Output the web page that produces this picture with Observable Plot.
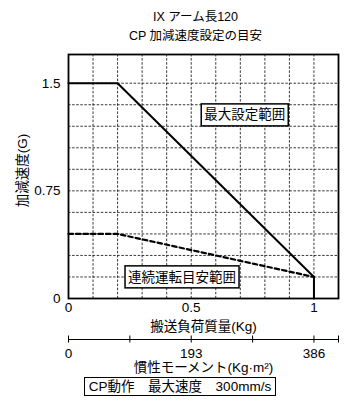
<!DOCTYPE html>
<html><head><meta charset="utf-8">
<script src="https://cdn.jsdelivr.net/npm/d3@7"></script>
<script src="https://cdn.jsdelivr.net/npm/@observablehq/plot@0.6"></script>
<style>
body{margin:0;background:#fff;width:353px;height:410px;position:relative;font-family:"Liberation Sans","Noto Sans CJK JP",sans-serif;color:#000}
#title{position:absolute;left:0;top:0;width:353px;height:48px;box-sizing:border-box;padding-top:8px;padding-left:38px;text-align:center;font-size:12.5px;line-height:19px}
#main{position:absolute;left:0;top:48px}
#sub{position:absolute;left:0;top:332px}
#caption{position:absolute;left:0;top:377px;width:353px;text-align:center;padding-left:7px;box-sizing:border-box}
#caption span{display:inline-block;border:1.5px solid #000;font-size:13.5px;line-height:17px;padding:0 4px}
svg{display:block;overflow:visible}
</style></head><body>
<div id="title">IX アーム長120<br>CP 加減速度設定の目安</div>
<div id="main"></div>
<div id="sub"></div>
<div id="caption"><span>CP動作　最大速度　300mm/s</span></div>
<script>
// data
const maxMass = [0, 0.2, 1.0, 1.0];
const maxAccel = [1.5, 1.5, 0.15, 0];
const contMass = [0, 0.2, 1.0];
const contAccel = [0.45, 0.45, 0.15];
const xTicks = [0, 0.5, 1];
const yTicks = [0, 0.75, 1.5];
const xGrid = [0.1, 0.2, 0.3, 0.4, 0.5, 0.6, 0.7, 0.8, 0.9, 1.0];
const yGrid = [0.15, 0.3, 0.45, 0.6, 0.75, 0.9, 1.05, 1.2, 1.35, 1.5];
const regionLabels = ["最大設定範囲", "連続運転目安範囲"];
const regionX = [0.718, 0.4625];
const regionY = [1.278, 0.146];
const inertiaLabels = [0, 193, 386];
const inertiaTicks = [0, 96.5, 193, 289.5, 386, 424.6];
const inertiaMax = 424.6;

const font = `"Liberation Sans","Noto Sans CJK JP",sans-serif`;
const fmt = d => String(d);
const maxData = maxMass.map((m, i) => ({m, a: maxAccel[i]}));
const contData = contMass.map((m, i) => ({m, a: contAccel[i]}));
const labels = regionLabels.map((t, i) => ({t, x: regionX[i], y: regionY[i]}));

const main = Plot.plot({
  width: 353, height: 290,
  marginTop: 6, marginBottom: 40, marginLeft: 68, marginRight: 15,
  style: {fontFamily: font, fontSize: "13.5px", background: "transparent", color: "#000", overflow: "visible"},
  x: {domain: [0, 1.1], ticks: xTicks, tickFormat: fmt, tickSize: 0, tickPadding: 4, label: null},
  y: {domain: [0, 1.7], ticks: yTicks, tickFormat: fmt, tickSize: 0, tickPadding: 8, label: null},
  marks: [
    Plot.ruleX(xGrid, {stroke: "#222", strokeWidth: 0.9, strokeDasharray: "2.5,1.6"}),
    Plot.ruleY(yGrid, {stroke: "#222", strokeWidth: 0.9, strokeDasharray: "2.5,1.6"}),
    Plot.line(contData, {x: "m", y: "a", stroke: "#000", strokeWidth: 2.2, strokeDasharray: "4.5,3"}),
    Plot.line(maxData, {x: "m", y: "a", stroke: "#000", strokeWidth: 2}),
    Plot.frame({stroke: "#000", strokeWidth: 1.8}),
    Plot.text(labels, {x: "x", y: "y", text: "t", fontSize: 13.5, fill: "#000"}),
    Plot.text(["搬送負荷質量(Kg)"], {frameAnchor: "bottom", lineAnchor: "middle", textAnchor: "middle", dy: 28.5, fontSize: 13.5, fill: "#000"}),
    Plot.text(["加減速度(G)"], {frameAnchor: "left", lineAnchor: "middle", textAnchor: "middle", dx: -46, dy: -6, rotate: -90, fontSize: 13.5, fill: "#000"})
  ]
});
document.getElementById("main").appendChild(main);

// boxes behind region labels
main.querySelectorAll("text").forEach(t => {
  if (!regionLabels.includes(t.textContent)) return;
  const b = t.getBBox();
  const r = document.createElementNS("http://www.w3.org/2000/svg", "rect");
  r.setAttribute("x", b.x - 3);
  r.setAttribute("width", b.width + 6);
  const cy = b.y + b.height / 2;
  r.setAttribute("y", cy - 11);
  r.setAttribute("height", 22);
  r.setAttribute("fill", "#fff");
  r.setAttribute("stroke", "#000");
  r.setAttribute("stroke-width", 1.5);
  if (t.getAttribute("transform")) r.setAttribute("transform", t.getAttribute("transform"));
  t.parentNode.insertBefore(r, t);
});

const sub = Plot.plot({
  width: 353, height: 44,
  marginTop: 3, marginBottom: 33, marginLeft: 68, marginRight: 15,
  style: {fontFamily: font, fontSize: "13.5px", background: "transparent", color: "#000", overflow: "visible"},
  x: {domain: [0, inertiaMax], ticks: inertiaLabels, tickFormat: fmt, tickSize: 0, tickPadding: 5, label: null},
  y: {domain: [-1, 1], range: [10.5, 3.5], axis: null},
  marks: [
    Plot.ruleY([0], {x1: 0, x2: inertiaMax, stroke: "#000", strokeWidth: 1}),
    Plot.ruleX(inertiaTicks, {y1: -1, y2: 1, stroke: "#000", strokeWidth: 1}),
    Plot.text(["慣性モーメント(Kg·m²)"], {frameAnchor: "bottom", lineAnchor: "middle", textAnchor: "middle", dy: 24.5, fontSize: 13.5, fill: "#000"})
  ]
});
document.getElementById("sub").appendChild(sub);
</script>
</body></html>
